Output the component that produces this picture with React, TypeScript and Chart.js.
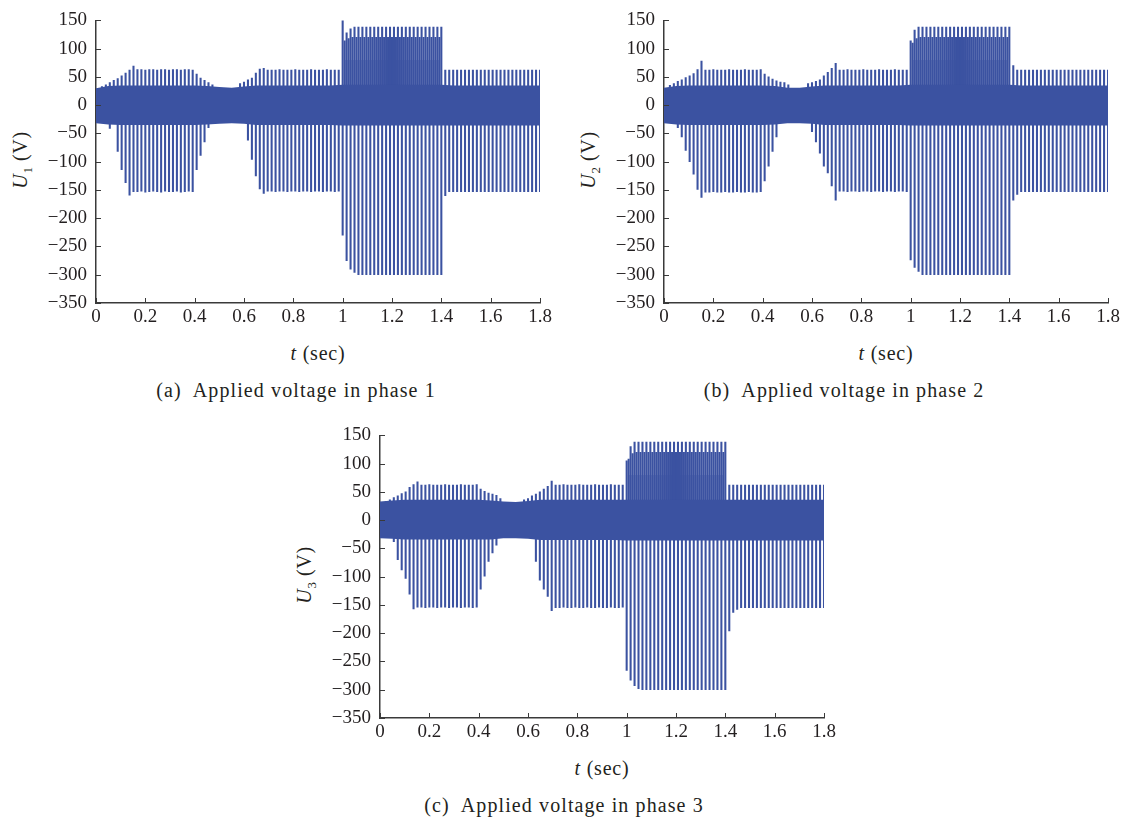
import React, { useEffect, useRef } from 'react';
import { Chart, registerables } from 'chart.js';

Chart.register(...registerables);

// ---------- data ----------
// spikes are sampled once per switching period: t_i = SPIKE_T0 + i * SPIKE_DT
const SPIKE_T0 = 0.008;
const SPIKE_DT = 0.016;
// secondary (≈120 V) spikes during the 1.0–1.4 s interval
const MID_T0 = 1.008;
// dense core envelope, sampled every CORE_DT seconds from 0
const CORE_DT = 0.05;
// light band in the 1.0–1.4 s interval
const LIGHT_T = [1.004, 1.396];

const X_TICKS = [0, 0.2, 0.4, 0.6, 0.8, 1, 1.2, 1.4, 1.6, 1.8];
const X_TICK_LABELS = ['0', '0.2', '0.4', '0.6', '0.8', '1', '1.2', '1.4', '1.6', '1.8'];
const Y_TICKS = [150, 100, 50, 0, -50, -100, -150, -200, -250, -300, -350];
const Y_TICK_LABELS = ['150', '100', '50', '0', '\u221250', '\u2212100', '\u2212150', '\u2212200', '\u2212250', '\u2212300', '\u2212350'];

const n = null;

// ---- phase 1 ----
const P1_POS = [
  n, 33, 36, 40, 44, 47, 52, 57, 62, 69,
  63, 63, 62, 63, 63, 62, 63, 63, 62, 63, 63, 62, 63, 63, 62,
  55, 48, 44, 40, 36, n, n, n, n, n, n, 38,
  41, 45, 48, 57, 64, 65, 62,
  62, 62, 63, 62, 62, 62, 63, 62, 62, 62, 63, 62, 62, 62, 63, 62, 62, 62,
  150, 128, 135, 138, 138, 138, 138, 138, 138, 138, 138, 138, 138, 138, 138, 138, 138, 138, 138, 138, 138, 138, 138, 138, 138, 138,
  62, 62, 62, 62, 62, 62, 62, 62, 62, 62, 62, 62, 62, 62, 62, 62, 62, 62, 62, 62, 62, 62, 62, 62, 62,
];
const P1_NEG = [
  n, n, n, -41, n, -82, -114, -137, -159, -153,
  -153, -152, -154, -153, -152, -153, -154, -152, -153, -153, -152, -154, -153, -152, -153,
  -114, -89, -65, -40, n, n, n, n, n, n, n, n,
  n, -62, -96, -125, -148, -156, -152,
  -152, -153, -152, -152, -153, -152, -152, -153, -152, -152, -153, -152, -152, -153, -152, -152, -153, -152,
  -230, -275, -290, -296, -300, -300, -300, -300, -300, -300, -300, -300, -300, -300, -300, -300, -300, -300, -300, -300, -300, -300, -300, -300, -300, -300,
  -160, -153, -153, -153, -153, -153, -153, -153, -153, -153, -153, -153, -153, -153, -153, -153, -153, -153, -153, -153, -153, -153, -153, -153, -153,
];
const P1_MID = [114, 118, 120, 120, 120, 120, 120, 120, 120, 120, 120, 120, 120, 120, 120, 120, 120, 120, 120, 120, 120, 120, 120, 120, 120];
const P1_CORE_UP = [30, 34, 35, 35, 35, 35, 35, 35, 35, 34, 32, 31, 33, 35, 35, 35, 35, 35, 35, 35, 36, 36, 36, 36, 36, 36, 36, 36, 36, 35, 35, 35, 35, 35, 35, 35, 35];
const P1_CORE_LO = [-32, -34, -35, -35, -35, -35, -35, -35, -35, -34, -33, -32, -33, -35, -35, -35, -35, -35, -35, -35, -36, -36, -36, -36, -36, -36, -36, -36, -36, -36, -36, -36, -36, -36, -36, -36, -36];

// ---- phase 2 ----
const P2_POS = [
  n, 35, 38, 42, 45, 49, 52, 56, 63, 78,
  62, 62, 63, 62, 62, 62, 63, 62, 62, 62, 63, 62, 62, 62, 63,
  55, 50, 46, 43, 41, 40, 36, n, n, n, n, 38,
  40, 42, 45, 52, 58, 65, 74,
  62, 62, 63, 62, 62, 62, 63, 62, 62, 62, 63, 62, 62, 62, 63, 62, 62, 62,
  114, 133, 138, 138, 138, 138, 138, 138, 138, 138, 138, 138, 138, 138, 138, 138, 138, 138, 138, 138, 138, 138, 138, 138, 138, 138,
  70, 62, 62, 62, 62, 62, 62, 62, 62, 62, 62, 62, 62, 62, 62, 62, 62, 62, 62, 62, 62, 62, 62, 62, 62,
];
const P2_NEG = [
  n, n, n, -40, -56, -80, -100, -122, -149, -163,
  -154, -154, -153, -154, -154, -153, -154, -154, -153, -154, -154, -153, -154, -154, -153,
  -134, -108, -82, -56, n, n, n, n, n, n, n, n,
  -47, -65, -85, -108, -120, -143, -168,
  -152, -152, -153, -152, -152, -153, -152, -152, -153, -152, -152, -153, -152, -152, -153, -152, -152, -153,
  -274, -287, -294, -300, -300, -300, -300, -300, -300, -300, -300, -300, -300, -300, -300, -300, -300, -300, -300, -300, -300, -300, -300, -300, -300, -300,
  -168, -158, -153, -153, -153, -153, -153, -153, -153, -153, -153, -153, -153, -153, -153, -153, -153, -153, -153, -153, -153, -153, -153, -153, -153,
];
const P2_MID = [110, 118, 120, 120, 120, 120, 120, 120, 120, 120, 120, 120, 120, 120, 120, 120, 120, 120, 120, 120, 120, 120, 120, 120, 120];
const P2_CORE_UP = [31, 34, 35, 35, 35, 35, 35, 35, 35, 34, 31, 31, 33, 35, 35, 35, 35, 35, 35, 35, 36, 36, 36, 36, 36, 36, 36, 36, 36, 35, 35, 35, 35, 35, 35, 35, 35];
const P2_CORE_LO = [-32, -34, -35, -35, -35, -35, -35, -35, -35, -34, -32, -32, -33, -35, -35, -35, -35, -35, -35, -35, -36, -36, -36, -36, -36, -36, -36, -36, -36, -36, -36, -36, -36, -36, -36, -36, -36];

// ---- phase 3 ----
const P3_POS = [
  n, 33, 36, 40, 43, 47, 50, 58, 63, 68,
  62, 62, 63, 62, 62, 62, 63, 62, 62, 62, 63, 62, 62, 62, 63,
  55, 51, 48, 46, 44, 38, n, n, n, n, n, 36,
  38, 43, 46, 50, 55, 60, 69,
  62, 62, 63, 62, 62, 62, 63, 62, 62, 62, 63, 62, 62, 62, 63, 62, 62, 62,
  105, 130, 138, 138, 138, 138, 138, 138, 138, 138, 138, 138, 138, 138, 138, 138, 138, 138, 138, 138, 138, 138, 138, 138, 138, 138,
  62, 62, 62, 62, 62, 62, 62, 62, 62, 62, 62, 62, 62, 62, 62, 62, 62, 62, 62, 62, 62, 62, 62, 62, 62,
];
const P3_NEG = [
  n, n, n, -38, -70, -88, -103, -131, -157, -154,
  -154, -155, -154, -154, -155, -154, -154, -155, -154, -154, -155, -154, -154, -155, -154,
  -122, -99, -73, -58, -44, n, n, n, n, n, n, n,
  n, n, -73, -106, -122, -135, -160,
  -155, -155, -154, -155, -155, -154, -155, -155, -154, -155, -155, -154, -155, -155, -154, -155, -155, -154,
  -266, -283, -293, -298, -300, -300, -300, -300, -300, -300, -300, -300, -300, -300, -300, -300, -300, -300, -300, -300, -300, -300, -300, -300, -300, -300,
  -196, -163, -158, -155, -155, -155, -155, -155, -155, -155, -155, -155, -155, -155, -155, -155, -155, -155, -155, -155, -155, -155, -155, -155, -155,
];
const P3_MID = [108, 118, 120, 120, 120, 120, 120, 120, 120, 120, 120, 120, 120, 120, 120, 120, 120, 120, 120, 120, 120, 120, 120, 120, 120];
const P3_CORE_UP = [33, 35, 36, 36, 36, 36, 36, 36, 36, 35, 33, 32, 34, 36, 36, 36, 36, 36, 36, 36, 36, 36, 36, 36, 36, 36, 36, 36, 36, 36, 36, 36, 36, 36, 36, 36, 36];
const P3_CORE_LO = [-32, -33, -34, -34, -34, -34, -34, -34, -34, -34, -32, -32, -33, -35, -35, -35, -35, -35, -35, -35, -36, -36, -36, -36, -36, -36, -36, -36, -36, -36, -36, -36, -36, -36, -36, -36, -36];

const LIGHT_TOP = [80, 80];
const LIGHT_BASE = 35;

// ---------- styling ----------
const BLUE = 'rgb(59,82,161)';
const LIGHT = 'rgba(59,82,161,0.42)';
const AXIS = '#3a3a3a';
const TEXT = '#231f20';
const FONT = '"Liberation Serif", "DejaVu Serif", serif';

const PLOT_W = 444;
const PLOT_H = 289;
const PAD_L = 60;
const PAD_T = 14;
const PAD_R = 25;
const PAD_B = 32;

const inwardTicks = {
  id: 'inwardTicks',
  afterDraw(chart: any) {
    const { ctx, chartArea, scales } = chart;
    const x = scales.x;
    const y = scales.y;
    ctx.save();
    ctx.strokeStyle = AXIS;
    ctx.lineWidth = 1;
    x.ticks.forEach((t: any) => {
      const px = Math.round(x.getPixelForValue(t.value)) + 0.5;
      ctx.beginPath();
      ctx.moveTo(px, chartArea.bottom);
      ctx.lineTo(px, chartArea.bottom - 5);
      ctx.stroke();
    });
    y.ticks.forEach((t: any) => {
      const py = Math.round(y.getPixelForValue(t.value)) + 0.5;
      ctx.beginPath();
      ctx.moveTo(chartArea.left, py);
      ctx.lineTo(chartArea.left + 5, py);
      ctx.stroke();
    });
    ctx.restore();
  },
};

type PanelProps = {
  pos: (number | null)[];
  neg: (number | null)[];
  mid: number[];
  coreUp: number[];
  coreLo: number[];
  left: number;
  top: number;
  yLabel: string;
  caption: string;
  captionX: number;
};

function spikeBars(vals: (number | null)[], positive: boolean) {
  const out: any[] = [];
  vals.forEach((v, i) => {
    if (v === null) return;
    out.push({ x: SPIKE_T0 + i * SPIKE_DT, y: positive ? [0, v] : [v, 0] });
  });
  return out;
}

function Panel(p: PanelProps) {
  const ref = useRef<HTMLCanvasElement | null>(null);

  useEffect(() => {
    if (!ref.current) return;
    const barCommon = {
      type: 'bar' as const,
      backgroundColor: BLUE,
      borderWidth: 0,
      barThickness: 1.4,
      grouped: false,
      order: 2,
    };
    const chart = new Chart(ref.current, {
      type: 'bar',
      data: {
        datasets: [
          {
            type: 'line',
            data: p.coreUp.map((v, j) => ({ x: j * CORE_DT, y: v })),
            fill: '+1',
            backgroundColor: BLUE,
            borderColor: 'rgba(0,0,0,0)',
            borderWidth: 0,
            pointRadius: 0,
            tension: 0,
            order: 1,
          } as any,
          {
            type: 'line',
            data: p.coreLo.map((v, j) => ({ x: j * CORE_DT, y: v })),
            fill: false,
            borderColor: 'rgba(0,0,0,0)',
            borderWidth: 0,
            pointRadius: 0,
            order: 1,
          } as any,
          {
            type: 'line',
            data: LIGHT_T.map((t, k) => ({ x: t, y: LIGHT_TOP[k] })),
            fill: { value: LIGHT_BASE },
            backgroundColor: LIGHT,
            borderColor: 'rgba(0,0,0,0)',
            borderWidth: 0,
            pointRadius: 0,
            order: 9,
          } as any,
          { ...barCommon, data: spikeBars(p.pos, true) } as any,
          { ...barCommon, data: spikeBars(p.neg, false) } as any,
          {
            ...barCommon,
            data: p.mid.map((v, k) => ({ x: MID_T0 + k * SPIKE_DT, y: [0, v] })),
          } as any,
        ],
      },
      options: {
        animation: false,
        responsive: false,
        maintainAspectRatio: false,
        devicePixelRatio: 1,
        layout: { padding: { top: PAD_T, right: PAD_R, left: 0, bottom: 0 } },
        plugins: { legend: { display: false }, tooltip: { enabled: false } },
        scales: {
          x: {
            type: 'linear',
            min: 0,
            max: 1.8,
            offset: false,
            grid: { display: false, drawTicks: false, offset: false },
            border: { display: true, color: AXIS, width: 1.5 },
            afterBuildTicks: (s: any) => {
              s.ticks = X_TICKS.map((v) => ({ value: v }));
            },
            afterFit: (s: any) => {
              s.height = PAD_B;
            },
            ticks: {
              autoSkip: false,
              maxRotation: 0,
              padding: 3,
              color: TEXT,
              font: { family: FONT, size: 19 },
              callback: (v: any) => {
                const k = X_TICKS.findIndex((t) => Math.abs(t - Number(v)) < 1e-6);
                return k >= 0 ? X_TICK_LABELS[k] : '';
              },
            },
          },
          y: {
            type: 'linear',
            min: -350,
            max: 150,
            grid: { display: false, drawTicks: false },
            border: { display: true, color: AXIS, width: 1.5 },
            afterBuildTicks: (s: any) => {
              s.ticks = Y_TICKS.map((v) => ({ value: v }));
            },
            afterFit: (s: any) => {
              s.width = PAD_L;
            },
            ticks: {
              autoSkip: false,
              padding: 9,
              color: TEXT,
              font: { family: FONT, size: 19 },
              callback: (v: any) => {
                const k = Y_TICKS.findIndex((t) => Math.abs(t - Number(v)) < 1e-6);
                return k >= 0 ? Y_TICK_LABELS[k] : '';
              },
            },
          },
        },
      },
      plugins: [inwardTicks],
    });
    return () => chart.destroy();
  }, []);

  const cw = PAD_L + PLOT_W + PAD_R;
  const ch = PAD_T + PLOT_H + PAD_B;
  const textBase: React.CSSProperties = {
    position: 'absolute',
    fontFamily: FONT,
    color: TEXT,
    fontSize: 20,
    whiteSpace: 'pre',
    lineHeight: 1,
    transform: 'translate(-50%, -50%)',
  };
  return (
    <>
      <canvas
        ref={ref}
        width={cw}
        height={ch}
        style={{ position: 'absolute', left: p.left - PAD_L, top: p.top - PAD_T, width: cw, height: ch }}
      />
      <div
        style={{
          ...textBase,
          letterSpacing: 0.6,
          left: p.left - 76,
          top: p.top + 146,
          transform: 'translate(-50%, -50%) rotate(-90deg)',
        }}
      >
        <i>U</i>
        <sub style={{ fontSize: 13, verticalAlign: 'baseline', position: 'relative', top: 5 }}>{p.yLabel}</sub> (V)
      </div>
      <div style={{ ...textBase, letterSpacing: 0.8, left: p.left + PLOT_W / 2, top: p.top + 339 }}>
        <i>t</i> (sec)
      </div>
      <div style={{ ...textBase, letterSpacing: 1.1, left: p.captionX, top: p.top + 376 }}>{p.caption}</div>
    </>
  );
}

export default function App() {
  return (
    <div style={{ position: 'absolute', left: 0, top: 0, width: 1126, height: 820, background: '#fff', overflow: 'hidden' }}>
      <Panel pos={P1_POS} neg={P1_NEG} mid={P1_MID} coreUp={P1_CORE_UP} coreLo={P1_CORE_LO}
        left={96} top={14} yLabel="1" caption={'(a)  Applied voltage in phase 1'} captionX={296} />
      <Panel pos={P2_POS} neg={P2_NEG} mid={P2_MID} coreUp={P2_CORE_UP} coreLo={P2_CORE_LO}
        left={664} top={14} yLabel="2" caption={'(b)  Applied voltage in phase 2'} captionX={844} />
      <Panel pos={P3_POS} neg={P3_NEG} mid={P3_MID} coreUp={P3_CORE_UP} coreLo={P3_CORE_LO}
        left={380} top={429} yLabel="3" caption={'(c)  Applied voltage in phase 3'} captionX={564} />
    </div>
  );
}
